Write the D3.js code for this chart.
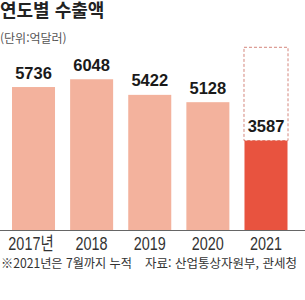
<!DOCTYPE html>
<html lang="ko">
<head>
<meta charset="UTF-8">
<title>연도별 수출액</title>
<script src="https://d3js.org/d3.v7.min.js"></script>
<style>
    body { margin: 0; background: #fff; }
    svg { display: block; }
</style>
</head>
<body>
<svg id="chart" width="305" height="300"></svg>
<script>
    // data
    var years = ["2017", "2018", "2019", "2020", "2021"];
    var yearLabels = ["2017년", "2018", "2019", "2020", "2021"];
    var exports = [5736, 6048, 5422, 5128, 3587];
    var boxTop = 7330; // dashed outline above the 2021 bar
    var title = "연도별 수출액";
    var unit = "(단위:억달러)";
    var note = "※2021년은 7월까지 누적";
    var source = "자료: 산업통상자원부, 관세청";

    var svg = d3.select("#chart");
    var width = 305;
    var baseY = 230;

    var x = d3.scaleBand()
        .domain(years)
        .range([12, 287.5])
        .paddingInner(0.26)
        .paddingOuter(0);

    var y = d3.scaleLinear()
        .domain([0, boxTop])
        .range([baseY, 47.3]);

    var kr = "'Noto Sans CJK KR', 'Noto Sans', sans-serif";

    // squeeze a text horizontally, like a condensed face
    function narrow(sel, k) {
        sel.each(function() {
            var w = this.getComputedTextLength();
            d3.select(this)
                .attr("textLength", w * k)
                .attr("lengthAdjust", "spacingAndGlyphs");
        });
    }

    svg.append("text")
        .attr("x", 0).attr("y", 17)
        .attr("font-family", kr)
        .attr("font-weight", "bold")
        .attr("font-size", 18)
        .attr("fill", "#222")
        .text(title);

    svg.append("text")
        .attr("x", 0).attr("y", 43)
        .attr("font-family", kr)
        .attr("font-size", 12)
        .attr("fill", "#555")
        .text(unit);

    // dashed box over the last bar
    var last = years[years.length - 1];
    svg.append("rect")
        .attr("x", x(last) - 0.5)
        .attr("y", y(boxTop))
        .attr("width", x.bandwidth() + 1)
        .attr("height", y(exports[exports.length - 1]) - y(boxTop))
        .attr("fill", "none")
        .attr("stroke", "#c9675a")
        .attr("stroke-width", 0.8)
        .attr("stroke-dasharray", "3,2");

    svg.selectAll(".bar")
        .data(exports)
        .enter().append("rect")
        .attr("class", "bar")
        .attr("x", function(d, i) { return x(years[i]); })
        .attr("y", function(d) { return y(d); })
        .attr("width", x.bandwidth())
        .attr("height", function(d) { return baseY - y(d); })
        .attr("fill", function(d, i) { return i === exports.length - 1 ? "#e8533f" : "#f3b29d"; });

    svg.selectAll(".val")
        .data(exports)
        .enter().append("text")
        .attr("class", "val")
        .attr("x", function(d, i) { return x(years[i]) + x.bandwidth() / 2; })
        .attr("y", function(d) { return y(d) - 8.4; })
        .attr("text-anchor", "middle")
        .attr("font-family", "'Liberation Sans', Arial, sans-serif")
        .attr("font-weight", "bold")
        .attr("font-size", 16.5)
        .attr("fill", "#1a1a1a")
        .text(function(d) { return d; });

    // baseline
    svg.append("line")
        .attr("x1", 0).attr("x2", width)
        .attr("y1", baseY + 0.5).attr("y2", baseY + 0.5)
        .attr("stroke", "#666")
        .attr("stroke-width", 1);

    svg.selectAll(".year")
        .data(yearLabels)
        .enter().append("text")
        .attr("class", "year")
        .attr("x", function(d, i) { return x(years[i]) + x.bandwidth() / 2 - (i === 0 ? 2.5 : 0); })
        .attr("y", 250)
        .attr("text-anchor", "middle")
        .attr("font-family", "'Liberation Sans', " + kr)
        .attr("font-size", 18)
        .attr("fill", "#333")
        .text(function(d) { return d; })
        .call(narrow, 0.8);

    svg.append("text")
        .attr("x", 1).attr("y", 268)
        .attr("font-family", kr)
        .attr("font-size", 12.5)
        .attr("fill", "#333")
        .attr("textLength", 131)
        .attr("lengthAdjust", "spacingAndGlyphs")
        .text(note);

    svg.append("text")
        .attr("x", 145).attr("y", 268)
        .attr("font-family", kr)
        .attr("font-size", 12.5)
        .attr("fill", "#333")
        .attr("textLength", 152)
        .attr("lengthAdjust", "spacingAndGlyphs")
        .text(source);
</script>
</body>
</html>
